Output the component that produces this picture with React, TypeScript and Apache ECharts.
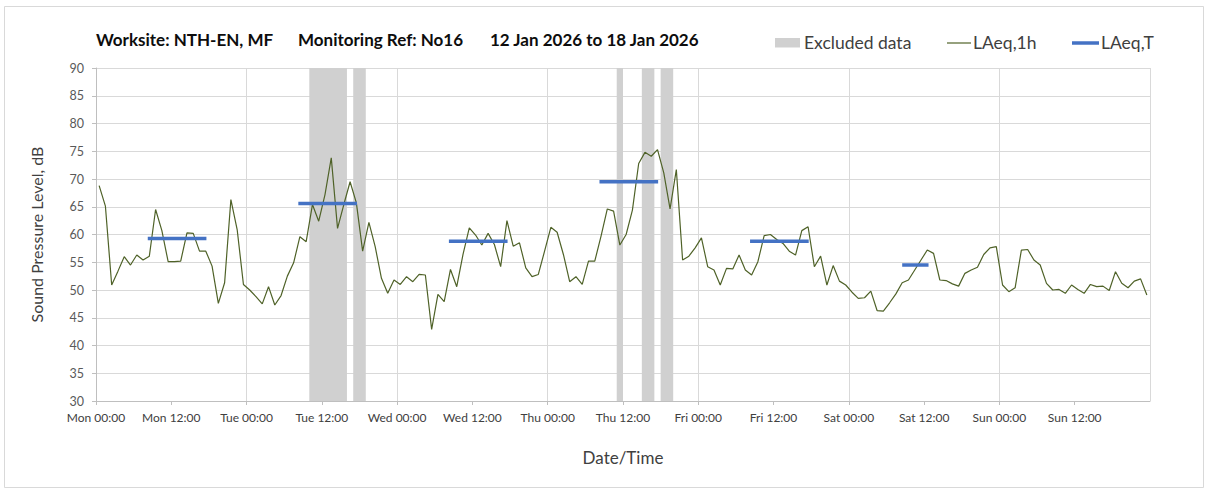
import React, { useEffect, useRef } from "react";
import * as echarts from "echarts";

// ---- Data (hourly LAeq,1h values, dB) ----
const monday = [68.8, 65.1, 50.9, 53.4, 56.0, 54.5, 56.3, 55.4, 56.1, 64.5, 60.7, 55.1, 55.1, 55.2, 60.3, 60.2, 57.0, 57.0, 54.3, 47.6, 51.3, 66.3, 60.9, 51.0];
const tuesday = [50.0, 48.8, 47.5, 50.6, 47.3, 49.0, 52.5, 54.9, 59.6, 58.7, 65.4, 62.4, 67.2, 73.8, 61.1, 65.4, 69.5, 65.7, 57.0, 62.2, 57.8, 52.1, 49.4, 51.8];
const wednesday = [51.0, 52.4, 51.5, 52.8, 52.7, 42.9, 49.2, 47.9, 53.7, 50.6, 56.4, 61.2, 59.9, 58.1, 60.2, 58.2, 54.2, 62.5, 57.9, 58.5, 54.0, 52.4, 52.8, 57.0];
const thursday = [61.3, 60.4, 56.4, 51.5, 52.4, 51.0, 55.2, 55.2, 59.7, 64.6, 64.2, 58.1, 60.0, 64.4, 72.8, 74.8, 74.1, 75.3, 71.1, 64.6, 71.7, 55.4, 56.1, 57.6];
const friday = [59.4, 54.2, 53.6, 50.9, 53.9, 53.8, 56.3, 53.6, 52.7, 55.1, 59.8, 60.0, 59.1, 58.4, 57.0, 56.3, 60.7, 61.4, 54.2, 56.1, 50.9, 54.4, 51.6, 50.9];
const saturday = [49.6, 48.5, 48.6, 49.8, 46.3, 46.2, 47.7, 49.3, 51.3, 51.8, 53.6, 55.4, 57.2, 56.6, 51.8, 51.7, 51.1, 50.7, 53.0, 53.6, 54.1, 56.4, 57.6, 57.8];
const sunday = [50.9, 49.7, 50.4, 57.2, 57.3, 55.4, 54.5, 51.2, 50.0, 50.1, 49.4, 50.9, 50.1, 49.4, 51.0, 50.6, 50.7, 49.9, 53.3, 51.2, 50.4, 51.6, 52.0, 49.1];
const dailyValues = [monday, tuesday, wednesday, thursday, friday, saturday, sunday];

// LAeq,T periods (day index, start hour, end hour, level)
const laeqTDay = [0, 1, 2, 3, 4, 5];
const laeqTStartHour = [8.25, 8.25, 8.25, 8.25, 8.25, 8.5];
const laeqTEndHour = [17.6, 17.6, 17.6, 17.6, 17.6, 12.7];
const laeqTValue = [59.3, 65.6, 58.8, 69.5, 58.8, 54.5];

// Excluded data periods (hours from Mon 00:00)
const excludedStart = [34, 41, 83, 87, 90];
const excludedEnd = [40, 43, 84, 89, 92];

// Axis tick labels
const xTickLabels = [
  "Mon 00:00", "Mon 12:00", "Tue 00:00", "Tue 12:00", "Wed 00:00", "Wed 12:00",
  "Thu 00:00", "Thu 12:00", "Fri 00:00", "Fri 12:00", "Sat 00:00", "Sat 12:00",
  "Sun 00:00", "Sun 12:00",
];
const yMin = 30;
const yMax = 90;
const yStep = 5;

const titleParts = ["Worksite: NTH-EN, MF", "Monitoring Ref: No16", "12 Jan 2026 to 18 Jan 2026"];
const legendNames = ["Excluded data", "LAeq,1h", "LAeq,T"];

const FONT = "Lato, 'Open Sans', sans-serif";
const GREEN = "#4f6228";
const BLUE = "#4472c4";
const BAND = "#d0d0d0";

export default function App() {
  const ref = useRef<HTMLDivElement>(null);

  useEffect(() => {
    document.body.style.margin = "0";
    if (!ref.current) return;
    const chart = echarts.init(ref.current, undefined, { renderer: "svg" });

    const hourly: [number, number][] = [];
    dailyValues.forEach((day, d) => {
      day.forEach((v, h) => hourly.push([d * 24 + h + 0.5, v]));
    });

    const laeqTSeries = laeqTDay.map((d, i) => ({
      name: "LAeq,T",
      type: "line",
      xAxisIndex: 0,
      symbol: "none",
      silent: true,
      z: 4,
      lineStyle: { color: BLUE, width: 3.5 },
      data: [
        [d * 24 + laeqTStartHour[i], laeqTValue[i]],
        [d * 24 + laeqTEndHour[i], laeqTValue[i]],
      ],
    }));

    const titleStyle = { fontFamily: FONT, fontWeight: "bold", fontSize: 17, fill: "#0d0d0d", verticalAlign: "middle" };
    const legendStyle = { fontFamily: FONT, fontSize: 17.5, fill: "#404040", verticalAlign: "middle" };

    const option: any = {
      animation: false,
      textStyle: { fontFamily: FONT },
      grid: { left: 96, top: 68, width: 1054, height: 333, containLabel: false },
      xAxis: [
        {
          type: "value",
          min: 0,
          max: 168,
          interval: 12,
          name: "Date/Time",
          nameLocation: "middle",
          nameGap: 48,
          nameTextStyle: { fontFamily: FONT, fontSize: 17, color: "#404040" },
          axisLine: { show: true, lineStyle: { color: "#bfbfbf", width: 1 } },
          axisTick: { show: true, length: 4, lineStyle: { color: "#bfbfbf" } },
          axisLabel: {
            fontFamily: FONT,
            fontSize: 12,
            color: "#404040",
            margin: 10,
            showMaxLabel: false,
            formatter: (v: number) => xTickLabels[Math.round(v / 12)] ?? "",
          },
          splitLine: { show: false },
        },
        {
          type: "value",
          min: 0,
          max: 168,
          interval: 24,
          position: "bottom",
          axisLine: { show: false },
          axisTick: { show: false },
          axisLabel: { show: false },
          splitLine: { show: true, lineStyle: { color: "#d9d9d9", width: 1 } },
        },
      ],
      yAxis: {
        type: "value",
        min: yMin,
        max: yMax,
        interval: yStep,
        name: "Sound Pressure Level, dB",
        nameLocation: "middle",
        nameGap: 52,
        nameTextStyle: { fontFamily: FONT, fontSize: 16, color: "#404040" },
        axisLine: { show: true, lineStyle: { color: "#bfbfbf", width: 1 } },
        axisTick: { show: true, length: 4, lineStyle: { color: "#bfbfbf" } },
        axisLabel: { fontFamily: FONT, fontSize: 12.5, color: "#595959", margin: 12 },
        splitLine: { show: true, lineStyle: { color: "#d9d9d9", width: 1 } },
      },
      series: [
        {
          name: "Excluded data",
          type: "line",
          data: [],
          silent: true,
          z: 1,
          markArea: {
            silent: true,
            itemStyle: { color: BAND, opacity: 1 },
            data: excludedStart.map((s, i) => [{ xAxis: s }, { xAxis: excludedEnd[i] }]),
          },
        },
        {
          name: "LAeq,1h",
          type: "line",
          symbol: "none",
          silent: true,
          z: 3,
          lineStyle: { color: GREEN, width: 1.2 },
          data: hourly,
        },
        ...laeqTSeries,
      ],
      graphic: [
        {
          type: "rect",
          shape: { x: 4.5, y: 6.5, width: 1199, height: 481 },
          style: { fill: "none", stroke: "#d9d9d9", lineWidth: 1 },
          silent: true,
        },
        { type: "text", x: 96, y: 39, style: { ...titleStyle, text: titleParts[0] } },
        { type: "text", x: 298, y: 39, style: { ...titleStyle, text: titleParts[1] } },
        { type: "text", x: 490, y: 39, style: { ...titleStyle, text: titleParts[2] } },
        {
          type: "rect",
          shape: { x: 775, y: 38, width: 25, height: 9.5 },
          style: { fill: BAND },
        },
        { type: "text", x: 804, y: 42.5, style: { ...legendStyle, text: legendNames[0] } },
        {
          type: "line",
          shape: { x1: 947, y1: 43, x2: 971, y2: 43 },
          style: { stroke: GREEN, lineWidth: 1.2 },
        },
        { type: "text", x: 973, y: 42.5, style: { ...legendStyle, text: legendNames[1] } },
        {
          type: "line",
          shape: { x1: 1072, y1: 43, x2: 1099, y2: 43 },
          style: { stroke: BLUE, lineWidth: 3.5 },
        },
        { type: "text", x: 1101, y: 42.5, style: { ...legendStyle, text: legendNames[2] } },
      ],
    };

    chart.setOption(option);
    return () => chart.dispose();
  }, []);

  return <div ref={ref} style={{ width: 1208, height: 493 }} />;
}
